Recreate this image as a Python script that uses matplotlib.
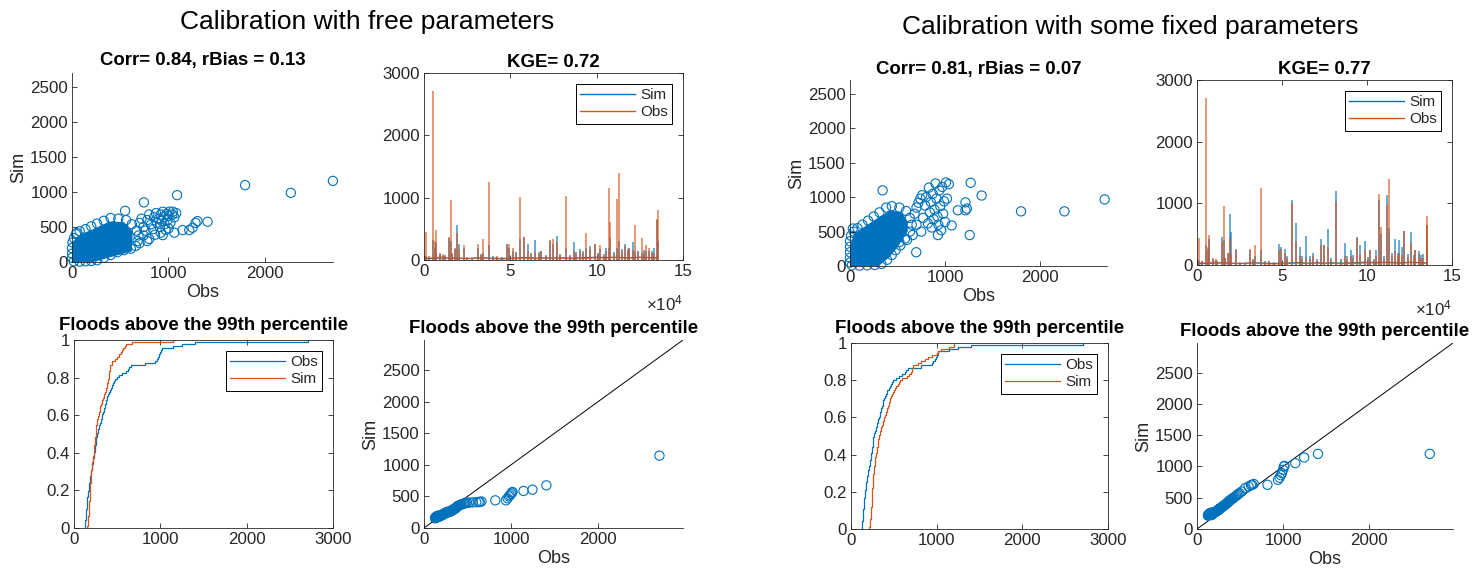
import numpy as np
import matplotlib
matplotlib.use('Agg')
import matplotlib.pyplot as plt
from matplotlib.lines import Line2D

plt.rcParams['font.family'] = ['Liberation Sans', 'DejaVu Sans']
plt.rcParams['mathtext.fontset'] = 'custom'
plt.rcParams['mathtext.rm'] = 'Liberation Sans'
plt.rcParams['mathtext.it'] = 'Liberation Sans:italic'

BLUE = '#0072BD'
ORANGE = '#D95319'
AXC = '#262626'

# ---------------- data ----------------
group_titles = ['Calibration with free parameters', 'Calibration with some fixed parameters']
scatter_titles = ['Corr= 0.84, rBias = 0.13', 'Corr= 0.81, rBias = 0.07']
kge_titles = ['KGE= 0.72', 'KGE= 0.77']
flood_title = 'Floods above the 99th percentile'

# floods above the 99th percentile (observed, and simulated by each calibration)
obs_flood = [127, 129, 131, 133, 135, 137, 139, 141, 143, 145, 147, 149, 151, 153, 156, 159, 162, 165,
             168, 171, 174, 177, 180, 184, 188, 192, 196, 200, 204, 208, 212, 216, 220, 224, 228, 232, 236, 240, 244, 248, 251, 254, 257, 259, 262,
             268, 274, 280, 287, 294, 300, 307, 314, 321, 328, 335, 342, 349, 356, 363, 369, 374, 377,
             385, 395, 405, 415, 425, 440, 455, 468, 480,
             495, 520, 560, 600, 628,
             640, 660, 819, 941,
             960, 975, 987, 1000, 1010,
             1017, 1143, 1246, 1406, 2705]
sim_flood_free = [155, 160, 158, 165, 170, 162, 175, 180, 168, 172, 166, 185, 178, 182, 176, 188, 195, 184,
                  180, 185, 178, 188, 192, 190, 196, 200, 194, 205, 202, 210, 208, 214, 218, 216, 222, 226, 230, 228, 234, 238, 236, 240, 244, 246, 250,
                  252, 256, 250, 258, 262, 258, 266, 272, 280, 288, 284, 298, 306, 302, 316, 320, 326, 336,
                  345, 350, 360, 365, 372, 378, 385, 392, 400,
                  398, 402, 405, 408, 412,
                  412, 420, 438, 438,
                  470, 500, 517, 540, 560,
                  570, 586, 607, 675, 1145]
sim_flood_fixed = [215, 220, 225, 218, 230, 235, 228, 240, 232, 238, 245, 242, 250, 248, 255, 252, 260, 258,
                   222, 240, 230, 245, 250, 255, 248, 262, 258, 265, 270, 268, 275, 272, 280, 285, 282, 290, 295, 300, 305, 298, 310, 315, 312, 320, 325,
                   330, 335, 340, 350, 355, 360, 370, 375, 385, 390, 400, 410, 415, 420, 430, 440, 445, 450,
                   460, 470, 480, 490, 500, 515, 530, 545, 560,
                   574, 600, 654, 680, 700,
                   707, 720, 707, 787,
                   820, 860, 894, 947, 1000,
                   1010, 1053, 1144, 1202, 1202]

# whole-record scatter: saturated core outline + individual circles
core_free_obs = [0, 220, 400, 620, 630, 540, 390, 220, 80, 0]
core_free_sim = [0, 0, 70, 150, 440, 570, 580, 470, 390, 280]
pts_free_obs = [20, 80, 140, 200, 260, 330, 400, 470, 540, 610, 660, 680, 690, 670, 620, 560, 480, 400, 330, 260,
                200, 140, 80, 40, 20, 5, 0, 0, 0, 50,
                700, 720, 740, 760, 780, 800, 820, 840, 850, 870, 880, 900, 910, 920, 930, 940, 950, 960, 970, 980,
                990, 1000, 1010, 1020, 1040, 1060, 1080, 860, 800, 740, 1000, 920, 700, 780, 940, 1060,
                550, 745, 1089, 1045, 1146, 1215, 1250, 1280, 1300, 1405, 1794, 2268, 2704]
pts_free_sim = [10, 5, 10, 15, 25, 60, 100, 140, 170, 190, 230, 300, 380, 450, 540, 600, 620, 630, 590, 550,
                510, 470, 440, 400, 340, 280, 200, 120, 60, 415,
                560, 620, 500, 450, 600, 680, 540, 470, 640, 700, 560, 620, 500, 680, 590, 720, 640, 540, 460, 690,
                600, 660, 720, 560, 680, 640, 700, 390, 330, 380, 480, 420, 270, 300, 385, 420,
                733, 853, 957, 720, 457, 457, 490, 560, 585, 576, 1100, 990, 1161]

core_fixed_obs = [0, 300, 410, 500, 610, 600, 550, 420, 250, 40, 0]
core_fixed_sim = [0, 0, 120, 270, 510, 650, 780, 810, 660, 470, 270]
pts_fixed_obs = [20, 100, 180, 260, 330, 390, 440, 480, 530, 580, 630, 650, 630, 590, 520, 440, 380, 310, 250, 190,
                 130, 80, 40, 10, 0, 0, 0, 0, 0, 30,
                 680, 700, 720, 740, 760, 770, 790, 800, 820, 830, 840, 850, 860, 870, 880, 890, 900, 910, 920, 930,
                 940, 950, 960, 970, 980, 990, 1000, 1010, 1020, 700, 750, 660, 600, 520,
                 343, 697, 925, 1070, 1260, 1270, 1385, 1215, 1230, 1135, 1215, 1800, 2257, 2680, 1040]
pts_fixed_sim = [10, 5, 10, 15, 30, 90, 160, 230, 300, 400, 500, 600, 700, 800, 850, 870, 850, 780, 720, 660,
                 600, 550, 500, 440, 360, 280, 200, 120, 50, 545,
                 760, 850, 920, 980, 1030, 700, 880, 1000, 620, 1140, 780, 930, 560, 1050, 680, 820, 1200, 980, 720, 600,
                 1100, 870, 520, 1150, 760, 940, 640, 1215, 980, 600, 500, 450, 380, 350,
                 1100, 200, 450, 590, 450, 1210, 1025, 925, 835, 810, 810, 795, 795, 968, 1190]

# time series: flood events (time step, peak value)
ev_t = [1000, 5000, 6200, 7200, 9500, 12000, 14700, 15800, 18000, 19200, 20000, 23000, 31000, 34200, 37800,
        48000, 49500, 51500, 55600, 58000, 60500, 64300, 68000, 73000, 74500, 76800, 82000, 86900, 90500, 94000,
        96000, 99000, 102000, 105500, 107300, 108000, 111600, 112900, 116500, 119000, 120800, 122000, 126000,
        128500, 130500, 133000, 135000, 135300,
        3000, 11000, 16500, 25000, 28000, 33000, 40000, 42500, 45000, 53000, 62000, 66500, 70500, 79000, 84500,
        88000, 92000, 100500, 104000, 110000, 114500, 118000, 124000, 127500, 132000]
ev_obs = [445, 2715, 300, 480, 110, 60, 375, 960, 200, 430, 180, 240, 255, 330, 1245,
          240, 255, 200, 1005, 370, 150, 130, 150, 320, 330, 290, 1025, 150, 140, 430,
          180, 250, 240, 150, 1155, 615, 975, 1400, 230, 200, 160, 555, 350,
          240, 200, 120, 650, 800,
          60, 90, 120, 40, 30, 80, 50, 60, 40, 110, 90, 100, 60, 80, 60,
          100, 120, 90, 70, 100, 140, 150, 130, 120, 110]
ev_sim_free = [60, 320, 200, 280, 90, 80, 360, 300, 180, 560, 250, 200, 200, 120, 240,
               250, 200, 150, 330, 375, 250, 320, 140, 300, 250, 385, 200, 295, 180, 200,
               230, 250, 180, 190, 200, 350, 200, 300, 250, 200, 285, 150, 120,
               150, 150, 200, 640, 300,
               50, 70, 100, 50, 40, 90, 60, 50, 50, 130, 120, 130, 80, 100, 80,
               130, 150, 110, 90, 130, 180, 170, 150, 160, 140]
ev_sim_fixed = [80, 330, 260, 420, 90, 70, 450, 400, 200, 830, 530, 265, 250, 150, 250,
                345, 300, 260, 1050, 680, 300, 470, 200, 415, 330, 585, 1200, 355, 250, 455,
                320, 385, 250, 250, 1050, 500, 1140, 600, 415, 400, 300, 550, 535,
                250, 230, 180, 650, 300,
                60, 80, 110, 50, 40, 100, 60, 60, 50, 150, 140, 150, 90, 120, 90,
                150, 170, 130, 100, 140, 200, 200, 180, 170, 160]
base_t = [0, 5000, 10000, 15000, 20000, 25000, 30000, 35000, 40000, 45000, 50000, 55000, 60000, 65000,
          70000, 75000, 80000, 85000, 90000, 95000, 100000, 105000, 110000, 115000, 120000, 125000, 130000, 135000]
base_obs = [40, 30, 50, 25, 30, 20, 35, 30, 20, 15, 20, 25, 30, 20, 35, 30, 25, 20, 30, 25, 35, 30, 40, 35, 30, 40, 35, 30]
base_sim = [20, 25, 30, 35, 30, 25, 30, 35, 30, 25, 30, 35, 40, 30, 35, 30, 35, 30, 35, 40, 45, 40, 45, 40, 35, 45, 40, 35]

ts_xticks = [0, 50000, 100000, 150000]
ts_xticklabels = ['0', '5', '10', '15']

# ---------------- figure ----------------
W, H = 1483, 576
fig = plt.figure(figsize=(W / 100, H / 100), dpi=100)

TICK_FS = 12.2
LABEL_FS = 13
TITLE_FS = 13.4
LEG_FS = 11


def rect(x0, y0, x1, y1):
    return [x0 / W, 1 - y1 / H, (x1 - x0) / W, (y1 - y0) / H]


def style(ax, box):
    ax.spines['top'].set_visible(box)
    ax.spines['right'].set_visible(box)
    for s in ax.spines.values():
        s.set_color(AXC)
        s.set_linewidth(0.6)
    ax.tick_params(direction='in', length=3.5, width=0.6, color=AXC, labelcolor=AXC,
                   labelsize=TICK_FS, top=box, right=box, pad=3)


def title(ax, txt, pad=4.5):
    ax.set_title(txt, fontsize=TITLE_FS, fontweight='bold', pad=pad, color='black')


def legend(ax, handles, labels):
    lg = ax.legend(handles, labels, loc='upper right', fancybox=False, framealpha=1,
                   edgecolor='black', fontsize=LEG_FS, handlelength=3.6, handletextpad=0.3,
                   borderpad=0.3, labelspacing=0.2, borderaxespad=0.7)
    lg.get_frame().set_linewidth(0.7)
    for t in lg.get_texts():
        t.set_color(AXC)


groups = [
    dict(sc=(72, 73, 333, 262), ts=(424, 73, 683, 260), ec=(74, 340, 333, 528), fl=(424, 340, 683, 528),
         core=(core_free_obs, core_free_sim), pts=(pts_free_obs, pts_free_sim),
         ev_sim=ev_sim_free, fsim=sim_flood_free, gt=(367, 22)),
    dict(sc=(850, 80, 1107, 266), ts=(1197, 80, 1452, 265), ec=(851, 343, 1108, 529), fl=(1197, 343, 1453, 529),
         core=(core_fixed_obs, core_fixed_sim), pts=(pts_fixed_obs, pts_fixed_sim),
         ev_sim=ev_sim_fixed, fsim=sim_flood_fixed, gt=(1130, 27)),
]

lim_all = max(obs_flood)
for gi, g in enumerate(groups):
    fig.text(g['gt'][0] / W, 1 - g['gt'][1] / H, group_titles[gi], ha='center', va='center',
             fontsize=19, color='black')

    # whole-record scatter
    ax = fig.add_axes(rect(*g['sc']))
    style(ax, False)
    ax.fill(g['core'][0], g['core'][1], color=BLUE, lw=0, clip_on=False)
    ax.scatter(g['pts'][0], g['pts'][1], s=44, facecolors='none', edgecolors=BLUE, linewidths=0.8, clip_on=False)
    ax.set_xlim(0, lim_all)
    ax.set_ylim(0, lim_all)
    ax.set_xticks([0, 1000, 2000])
    ax.set_yticks([0, 500, 1000, 1500, 2000, 2500])
    ax.set_xlabel('Obs', fontsize=LABEL_FS, color=AXC, labelpad=2)
    ax.set_ylabel('Sim', fontsize=LABEL_FS, color=AXC, labelpad=2)
    title(ax, scatter_titles[gi], pad=6 if gi == 0 else 4.5)

    # time series
    ax = fig.add_axes(rect(*g['ts']))
    style(ax, True)
    ax.plot(base_t, base_sim, color=BLUE, lw=0.8)
    ax.vlines(ev_t, 0, g['ev_sim'], colors=BLUE, lw=1.4, alpha=0.6)
    ax.plot(base_t, base_obs, color=ORANGE, lw=0.8, alpha=0.8)
    ax.vlines(ev_t, 0, ev_obs, colors=ORANGE, lw=1.4, alpha=0.6)
    ax.set_xlim(0, 150000)
    ax.set_ylim(0, 3000)
    ax.set_xticks(ts_xticks)
    ax.set_xticklabels(ts_xticklabels)
    ax.set_yticks([0, 1000, 2000, 3000])
    ax.text(1.0, -0.235, r'$\times\mathregular{10^{4}}$', transform=ax.transAxes, ha='right', va='center',
            fontsize=TICK_FS, color=AXC)
    legend(ax, [Line2D([], [], color=BLUE, lw=1), Line2D([], [], color=ORANGE, lw=1)], ['Sim', 'Obs'])
    title(ax, kge_titles[gi])

    # ECDF of floods
    ax = fig.add_axes(rect(*g['ec']))
    style(ax, True)
    handles = []
    for vals, col in [(obs_flood, BLUE), (g['fsim'], ORANGE)]:
        x = np.sort(np.asarray(vals, dtype=float))
        n = len(x)
        h, = ax.step(np.r_[x[0], x], np.r_[0.0, np.arange(1, n + 1) / n], where='post', color=col, lw=0.9)
        handles.append(h)
    ax.set_xlim(0, 3000)
    ax.set_ylim(0, 1)
    ax.set_xticks([0, 1000, 2000, 3000])
    ax.set_yticks([0, 0.2, 0.4, 0.6, 0.8, 1])
    ax.set_yticklabels(['0', '0.2', '0.4', '0.6', '0.8', '1'])
    legend(ax, handles, ['Obs', 'Sim'])
    title(ax, flood_title, pad=7)

    # flood scatter
    ax = fig.add_axes(rect(*g['fl']))
    style(ax, False)
    lim = 1.1 * max(obs_flood)
    ax.plot([0, lim], [0, lim], color='black', lw=0.7)
    ax.scatter(obs_flood, g['fsim'], s=44, facecolors='none', edgecolors=BLUE, linewidths=0.8, clip_on=False, zorder=3)
    ax.set_xlim(0, lim)
    ax.set_ylim(0, lim)
    ax.set_xticks([0, 1000, 2000])
    ax.set_yticks([0, 500, 1000, 1500, 2000, 2500])
    ax.set_xlabel('Obs', fontsize=LABEL_FS, color=AXC, labelpad=2)
    ax.set_ylabel('Sim', fontsize=LABEL_FS, color=AXC, labelpad=2)
    title(ax, flood_title, pad=5)

fig.savefig('out.png', dpi=100, facecolor='white')
